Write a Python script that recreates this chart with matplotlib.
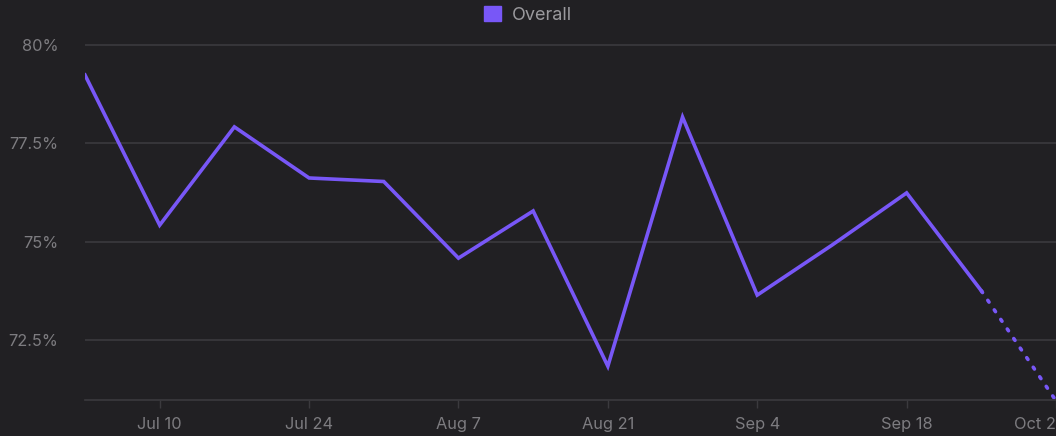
import matplotlib.pyplot as plt
import matplotlib.dates as mdates
from matplotlib.patches import Patch
import datetime as dt

# weekly overall rate (%)
weeks = ["2023-07-03", "2023-07-10", "2023-07-17", "2023-07-24", "2023-07-31",
         "2023-08-07", "2023-08-14", "2023-08-21", "2023-08-28", "2023-09-04",
         "2023-09-11", "2023-09-18", "2023-09-25", "2023-10-02"]
overall = [79.24, 75.42, 77.92, 76.62, 76.53, 74.58, 75.78, 71.83, 78.17,
           73.64, 74.91, 76.24, 73.75, 70.95]
tick_dates = ["2023-07-10", "2023-07-24", "2023-08-07", "2023-08-21",
              "2023-09-04", "2023-09-18", "2023-10-02"]
y_ticks = [72.5, 75, 77.5, 80]
y_labels = ["72.5%", "75%", "77.5%", "80%"]

bg = "#212023"
purple = "#7857f7"
txt = "#7d7c80"
grid = "#3b3a3e"

plt.rcParams['font.family'] = ['Inter', 'DejaVu Sans']

x = [dt.datetime.strptime(d, "%Y-%m-%d") for d in weeks]
xt = [dt.datetime.strptime(d, "%Y-%m-%d") for d in tick_dates]

fig = plt.figure(figsize=(10.56, 4.36), dpi=100, facecolor=bg)
ax = fig.add_axes([85/1056, 36/436, 1 - 85/1056, (400-20)/436])
ax.set_facecolor(bg)

ax.plot(x[:-1], overall[:-1], color=purple, lw=2.6, solid_joinstyle="miter")
# last (incomplete) week dotted
ax.plot(x[-2:], overall[-2:], color=purple, lw=2.6, linestyle=(0, (0.6, 2.6)),
        dash_capstyle="round")

ax.set_xlim(x[0], x[-1])
ax.set_ylim(70.97, 80.64)
ax.set_yticks(y_ticks)
ax.set_yticklabels(y_labels)
ax.set_xticks(xt)
ax.xaxis.set_major_formatter(mdates.DateFormatter("%b %-d"))
ax.grid(axis="y", color=grid, lw=1.2)
ax.set_axisbelow(True)

for s in ["top", "right", "left"]:
    ax.spines[s].set_visible(False)
ax.spines["bottom"].set_color(grid)
ax.spines["bottom"].set_linewidth(1.2)
ax.tick_params(axis="y", length=0, pad=19, colors=txt, labelsize=11.8)
ax.tick_params(axis="x", length=6, width=1, color=grid, pad=6, colors=grid,
               labelcolor=txt, labelsize=11.8)

fig.canvas.draw()
last = ax.get_xticklabels()[-1]
last.set_horizontalalignment("right")

fig.legend(handles=[Patch(facecolor=purple, edgecolor=purple, label="Overall")],
           loc="upper center", bbox_to_anchor=(0.5, 1.024), frameon=False,
           handlelength=0.95, handleheight=0.95, handletextpad=0.6,
           labelcolor="#9a999d", fontsize=13)

fig.savefig("out.png", dpi=100, facecolor=bg)
